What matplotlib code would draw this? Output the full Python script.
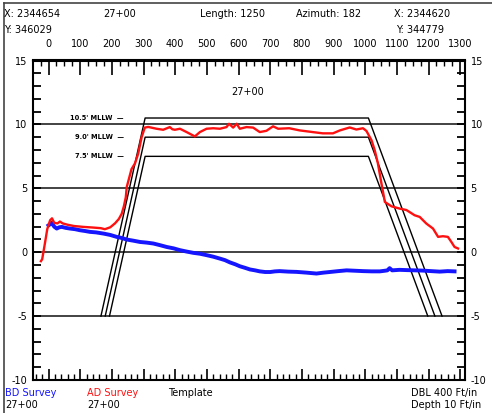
import matplotlib
matplotlib.use('Agg')
import matplotlib.pyplot as plt
from matplotlib.ticker import MultipleLocator
from matplotlib.lines import Line2D

plt.rcParams['font.family'] = ['DejaVu Sans']
plt.rcParams['axes.unicode_minus'] = False

# # Survey data (station ft, elevation ft MLLW)
bd_station = [0, 6, 10, 18, 26, 34, 42, 55, 68, 84, 99, 115, 131, 150, 173, 195, 215, 230,
              247, 268, 289, 310, 331, 352, 373, 395, 415, 436, 457, 478, 499, 520, 541, 557,
              573, 590, 604, 620, 636, 652, 667, 684, 700, 715, 730, 757, 783, 815, 846, 868,
              888, 915, 941, 967, 993, 1020, 1046, 1062, 1070, 1077, 1085, 1108, 1130, 1156,
              1182, 1208, 1235, 1260, 1282]
bd_elev = [2.1, 2.2, 2.3, 2.0, 1.85, 1.95, 1.98, 1.9, 1.85, 1.8, 1.72, 1.66, 1.59, 1.55, 1.46,
           1.35, 1.2, 1.12, 0.99, 0.9, 0.8, 0.75, 0.68, 0.55, 0.41, 0.3, 0.16, 0.05, -0.05,
           -0.12, -0.23, -0.35, -0.5, -0.62, -0.8, -0.95, -1.1, -1.22, -1.35, -1.42, -1.5,
           -1.55, -1.55, -1.5, -1.48, -1.52, -1.54, -1.6, -1.67, -1.6, -1.55, -1.48, -1.42,
           -1.45, -1.48, -1.5, -1.5, -1.45, -1.42, -1.25, -1.42, -1.38, -1.4, -1.42, -1.44,
           -1.48, -1.52, -1.48, -1.5]

ad_station = [-24, -20, -12, -4, 5, 11, 18, 28, 36, 45, 60, 80, 110, 140, 165, 178, 195, 210,
              222, 231, 238, 244, 247, 262, 273, 283, 294, 304, 315, 341, 362, 383, 391, 399,
              415, 436, 462, 478, 499, 520, 541, 562, 570, 583, 594, 604, 625, 646, 667, 688,
              709, 725, 760, 793, 834, 866, 898, 920, 951, 972, 993, 1004, 1020, 1030, 1040,
              1051, 1062, 1083, 1109, 1130, 1156, 1172, 1193, 1214, 1230, 1245, 1261, 1272,
              1282, 1293]
ad_elev = [-0.7, -0.55, 0.6, 1.8, 2.5, 2.65, 2.3, 2.25, 2.4, 2.25, 2.15, 2.05, 1.98, 1.93,
           1.88, 1.8, 1.95, 2.26, 2.6, 3.0, 3.6, 4.3, 5.1, 6.5, 6.95, 7.7, 9.0, 9.75, 9.8,
           9.66, 9.58, 9.79, 9.62, 9.58, 9.66, 9.4, 9.06, 9.4, 9.66, 9.7, 9.66, 9.79, 10.05,
           9.75, 10.05, 9.66, 9.79, 9.75, 9.4, 9.5, 9.85, 9.66, 9.7, 9.53, 9.4, 9.3, 9.3,
           9.53, 9.76, 9.6, 9.7, 9.48, 8.75, 7.97, 6.95, 5.4, 3.93, 3.59, 3.41, 3.3, 2.89,
           2.76, 2.24, 1.85, 1.2, 1.25, 1.2, 0.8, 0.41, 0.29]

# # Template section
crest_levels = [10.5, 9.0, 7.5]
crest_labels = ["10.5' MLLW  \u2014", "9.0' MLLW  \u2014", "7.5' MLLW  \u2014"]
crest_start = 305
crest_end = 1010
left_slope = 9     # run per unit rise
right_slope = 15
toe_elev = -5

x_ticks = list(range(0, 1301, 100))
y_ticks = [-10, -5, 0, 5, 10, 15]
grid_levels = [-5, 0, 5, 10]

W, H = 492, 413
fig = plt.figure(figsize=(W / 100, H / 100), dpi=100)
ax = fig.add_axes([33 / W, (H - 380) / H, (465 - 33) / W, (380 - 60.5) / H])
ax.set_xlim(-49, 1315)
ax.set_ylim(-10, 15)

for lvl in grid_levels:
	ax.axhline(lvl, color='#222222', lw=1.2, zorder=1)

for lvl, label in zip(crest_levels, crest_labels):
	drop = lvl - toe_elev
	xs = [crest_start - left_slope * drop, crest_start, crest_end, crest_end + right_slope * drop]
	ys = [toe_elev, lvl, lvl, toe_elev]
	ax.plot(xs, ys, color='black', lw=1.0, zorder=2)
	ax.text(237, lvl, label, fontsize=4.8, fontweight='bold', ha='right', va='center')

ax.plot(bd_station, bd_elev, color='#1515ff', lw=2.8, zorder=3)
ax.plot(ad_station, ad_elev, color='#ff1010', lw=1.7, zorder=4)
ax.text(630, 12.5, '27+00', fontsize=7, ha='center', va='center')

# axis styling
for sp in ax.spines.values():
	sp.set_linewidth(1.5)
ax.set_yticks(y_ticks)
ax.yaxis.set_minor_locator(MultipleLocator(1))
ax.tick_params(axis='y', which='both', direction='in', left=True, right=True,
	labelleft=True, labelright=True, length=6, width=1.3, labelsize=7, pad=5)
ax.tick_params(axis='y', which='major', labelright=True, pad=4)
ax.set_xticks(x_ticks)
ax.xaxis.set_minor_locator(MultipleLocator(20))
ax.tick_params(axis='x', which='major', direction='in', length=8, width=1.2, labelbottom=False)
ax.tick_params(axis='x', which='minor', direction='in', length=4.5, width=1.0)

top = ax.secondary_xaxis('top')
top.set_xticks(x_ticks)
top.xaxis.set_minor_locator(MultipleLocator(25))
top.tick_params(which='major', direction='in', length=11, width=1.2, labelsize=7, pad=8)
top.tick_params(which='minor', direction='in', length=4.3, width=1.0)
top.spines['top'].set_linewidth(1.5)

def ftext(px, py, s, color='black'):
	fig.text(px / W, 1 - py / H, s, fontsize=7, color=color, ha='left', va='center')

ftext(4, 14, 'X: 2344654')
ftext(103, 14, '27+00')
ftext(200, 14, 'Length: 1250')
ftext(296, 14, 'Azimuth: 182')
ftext(394, 14, 'X: 2344620')
ftext(4, 30, 'Y: 346029')
ftext(396, 30, 'Y: 344779')
ftext(5, 393, 'BD Survey', '#1515ff')
ftext(5, 405, '27+00')
ftext(87, 393, 'AD Survey', '#ff1010')
ftext(87, 405, '27+00')
ftext(168, 393, 'Template')
ftext(411, 393, 'DBL 400 Ft/in')
ftext(411, 405, 'Depth 10 Ft/in')

# outer frame (left and top edges)
fig.add_artist(Line2D([3.5 / W, 3.5 / W], [0, 1 - 3 / H], transform=fig.transFigure, color='#444444', lw=1.2))
fig.add_artist(Line2D([3.5 / W, 1], [1 - 3 / H, 1 - 3 / H], transform=fig.transFigure, color='#444444', lw=1.2))

fig.savefig('out.png', dpi=100)
